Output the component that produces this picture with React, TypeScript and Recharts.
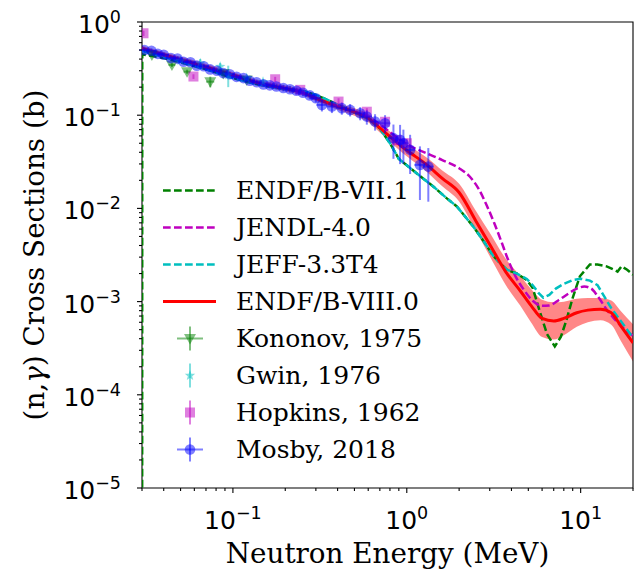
import React from 'react';
import { ComposedChart, Line, Area, Scatter, XAxis, YAxis, ErrorBar, ReferenceArea } from 'recharts';

// ---------- evaluated libraries ----------
// ENDF/B-VIII.0 (red, with uncertainty band)
const viii0E = [0.03, 0.04, 0.05, 0.07, 0.1, 0.14, 0.2, 0.25, 0.3, 0.4, 0.5, 0.6, 0.7, 0.8, 0.9, 1.0, 1.3, 1.6, 2.0, 2.5, 3.0, 3.7, 4.5, 5.2, 6.0, 7.0, 8.0, 9.5, 11, 13, 15, 17, 20];
const viii0Xs = [0.52, 0.445, 0.395, 0.33, 0.27, 0.222, 0.194, 0.176, 0.152, 0.124, 0.108, 0.093, 0.073, 0.059, 0.049, 0.042, 0.0295, 0.021, 0.0148, 0.0073, 0.0041, 0.0021, 0.0013, 0.0009, 0.00066, 0.00062, 0.00066, 0.00076, 0.00081, 0.00083, 0.00076, 0.00055, 0.00036];
const viii0Low = [0.485, 0.415, 0.368, 0.308, 0.252, 0.207, 0.181, 0.164, 0.142, 0.1144, 0.0985, 0.0839, 0.0651, 0.052, 0.0427, 0.0362, 0.0248, 0.01727, 0.01189, 0.00567, 0.00307, 0.00152, 0.0009, 0.000594, 0.000416, 0.000391, 0.000436, 0.000538, 0.0006, 0.00063, 0.000563, 0.000381, 0.000227];
const viii0High = [0.557, 0.477, 0.423, 0.354, 0.289, 0.238, 0.208, 0.189, 0.163, 0.1344, 0.1184, 0.1031, 0.0819, 0.067, 0.0563, 0.0488, 0.0351, 0.02554, 0.01843, 0.0094, 0.00547, 0.0029, 0.00188, 0.00136, 0.001046, 0.000983, 0.000999, 0.001074, 0.00109, 0.001094, 0.001025, 0.000795, 0.000571];

// JENDL-4.0 (magenta dashed)
const jendlE = [0.03, 0.04, 0.05, 0.07, 0.1, 0.14, 0.2, 0.25, 0.3, 0.4, 0.5, 0.6, 0.7, 0.8, 0.9, 1.04, 1.3, 1.6, 2.0, 2.3, 2.6, 2.9, 3.2, 3.5, 3.8, 4.2, 4.7, 5.3, 6.0, 6.6, 7.5, 8.5, 9.5, 10.5, 11.5, 12.5, 14, 16, 18, 20];
const jendlXs = [0.52, 0.445, 0.395, 0.33, 0.27, 0.222, 0.194, 0.176, 0.152, 0.126, 0.11, 0.096, 0.08, 0.066, 0.056, 0.047, 0.039, 0.033, 0.027, 0.022, 0.016, 0.0105, 0.0068, 0.0044, 0.0029, 0.0019, 0.00135, 0.00102, 0.0009, 0.00091, 0.00104, 0.00122, 0.00138, 0.00145, 0.00138, 0.00115, 0.00084, 0.00062, 0.0005, 0.00043];

// JEFF-3.3T4 (cyan dashed)
const jeffE = [0.03, 0.04, 0.05, 0.07, 0.1, 0.14, 0.2, 0.26, 0.3, 0.35, 0.45, 0.6, 0.7, 0.8, 0.9, 1.0, 1.2, 1.42, 1.7, 1.94, 2.41, 2.8, 3.14, 3.5, 3.76, 4.3, 4.9, 5.3, 5.7, 6.1, 6.6, 7.2, 8.0, 9.0, 10, 11.3, 12.5, 13.5, 15, 17, 20];
const jeffXs = [0.49, 0.42, 0.375, 0.31, 0.25, 0.213, 0.19, 0.18, 0.165, 0.146, 0.117, 0.092, 0.072, 0.05, 0.034, 0.029, 0.022, 0.0172, 0.0128, 0.0105, 0.0064, 0.0043, 0.0031, 0.0025, 0.0022, 0.002, 0.00175, 0.0015, 0.00125, 0.0011, 0.00118, 0.00138, 0.00155, 0.0017, 0.00176, 0.00168, 0.0015, 0.00118, 0.00085, 0.00062, 0.00041];

// ENDF/B-VII.1 (green dashed)
const vii1E = [0.03005, 0.0301, 0.04, 0.05, 0.07, 0.1, 0.14, 0.2, 0.26, 0.3, 0.35, 0.45, 0.6, 0.7, 0.8, 0.9, 1.0, 1.2, 1.42, 1.7, 1.94, 2.41, 2.8, 3.14, 3.5, 3.76, 4.3, 4.9, 5.3, 5.8, 6.4, 7.1, 7.7, 8.3, 9.0, 9.9, 11.3, 12.5, 14.1, 15.5, 16.3, 17.2, 18.5, 20];
const vii1Xs = [1e-7, 0.45, 0.41, 0.37, 0.31, 0.25, 0.213, 0.19, 0.18, 0.165, 0.146, 0.117, 0.092, 0.072, 0.05, 0.034, 0.029, 0.022, 0.0172, 0.0128, 0.0105, 0.0064, 0.0043, 0.0031, 0.0025, 0.0022, 0.002, 0.0017, 0.0014, 0.0008, 0.00045, 0.00033, 0.00042, 0.00064, 0.0011, 0.00187, 0.0025, 0.0025, 0.00239, 0.0022, 0.0021, 0.00239, 0.0022, 0.00194];

// ---------- measurements ----------
const kononovE = [0.0342, 0.0446, 0.0545, 0.0741, 0.088, 0.12];
const kononovXs = [0.443, 0.346, 0.293, 0.229, 0.28, 0.238];
const kononovDx = [0.0015, 0.002, 0.0025, 0.004, 0.004, 0.006];
const kononovDy = [0.02, 0.017, 0.015, 0.03, 0.014, 0.012];

const gwinE = [0.05, 0.0649, 0.0845, 0.094, 0.12, 0.149];
const gwinXs = [0.385, 0.361, 0.332, 0.27, 0.25, 0.228];
const gwinDy = [0.012, 0.04, 0.03, 0.07, 0.01, 0.012];

const hopkinsE = [0.0306, 0.0593, 0.175, 0.244, 0.405, 0.589, 0.75, 0.876, 1.0];
const hopkinsXs = [0.757, 0.26, 0.243, 0.187, 0.14, 0.109, 0.085, 0.054, 0.05];
const hopkinsDy = [0.05, 0.015, 0.015, 0.012, 0.012, 0.01, 0.008, 0.006, 0.006];

const mosbyE = [0.031, 0.034, 0.037, 0.040, 0.044, 0.048, 0.052, 0.057, 0.062, 0.068, 0.074, 0.081, 0.088, 0.096, 0.105, 0.115, 0.125, 0.137, 0.15, 0.163, 0.178, 0.195, 0.213, 0.232, 0.253, 0.277, 0.30, 0.325, 0.371, 0.423, 0.472, 0.539, 0.589, 0.657, 0.75, 0.838, 0.915, 0.956, 1.045, 1.19, 1.33];
const mosbyXs = [0.50, 0.49, 0.455, 0.445, 0.41, 0.405, 0.375, 0.37, 0.34, 0.335, 0.31, 0.30, 0.283, 0.275, 0.258, 0.25, 0.234, 0.226, 0.214, 0.209, 0.203, 0.196, 0.19, 0.183, 0.174, 0.163, 0.152, 0.129, 0.124, 0.119, 0.114, 0.105, 0.0966, 0.0854, 0.082, 0.0567, 0.0543, 0.050, 0.0425, 0.0293, 0.0281];
const mosbyRelDy = [6, 6, 6, 6, 6, 6, 6, 6, 6, 6, 6, 6, 6, 6, 6, 6, 6, 6, 6, 7, 7, 8, 8, 8, 8, 9, 10, 15, 15, 15, 15, 16, 18, 20, 22, 40, 45, 40, 45, 58, 58];
const mosbyRelDx = 7;

// ---------- ticks ----------
const xTicks = [0.03, 0.04, 0.05, 0.06, 0.07, 0.08, 0.09, 0.1, 0.2, 0.3, 0.4, 0.5, 0.6, 0.7, 0.8, 0.9, 1, 2, 3, 4, 5, 6, 7, 8, 9, 10, 20];
const yTicks = [
  1e-5, 2e-5, 3e-5, 4e-5, 5e-5, 6e-5, 7e-5, 8e-5, 9e-5,
  1e-4, 2e-4, 3e-4, 4e-4, 5e-4, 6e-4, 7e-4, 8e-4, 9e-4,
  1e-3, 2e-3, 3e-3, 4e-3, 5e-3, 6e-3, 7e-3, 8e-3, 9e-3,
  1e-2, 2e-2, 3e-2, 4e-2, 5e-2, 6e-2, 7e-2, 8e-2, 9e-2,
  0.1, 0.2, 0.3, 0.4, 0.5, 0.6, 0.7, 0.8, 0.9, 1,
];

const legendLabels = ['ENDF/B-VII.1', 'JENDL-4.0', 'JEFF-3.3T4', 'ENDF/B-VIII.0', 'Kononov, 1975', 'Gwin, 1976', 'Hopkins, 1962', 'Mosby, 2018'];

// ---------- colours ----------
const GREEN = '#008000';
const MAGENTA = '#bf00bf';
const CYAN = '#00bfbf';
const RED = '#ff0000';
const BLUE = '#0000ff';

const DASH = '7.7 3.3';
const DASH_W = 2.5;

const toLine = (xs: number[], ys: number[]) => xs.map((x, i) => ({ x, y: ys[i] }));

const bandData = viii0E.map((x, i) => ({ x, band: [viii0Low[i], viii0High[i]] }));
const viii0Data = toLine(viii0E, viii0Xs);
const jendlData = toLine(jendlE, jendlXs);
const jeffData = toLine(jeffE, jeffXs);
const vii1Data = toLine(vii1E, vii1Xs);

const kononovData = kononovE.map((x, i) => ({ x, y: kononovXs[i], ex: kononovDx[i], ey: kononovDy[i] }));
const gwinData = gwinE.map((x, i) => ({ x, y: gwinXs[i], ey: gwinDy[i] }));
const hopkinsData = hopkinsE.map((x, i) => ({ x, y: hopkinsXs[i], ey: hopkinsDy[i] }));
const mosbyData = mosbyE.map((x, i) => ({
  x,
  y: mosbyXs[i],
  ex: (x * mosbyRelDx) / 100,
  ey: (mosbyXs[i] * mosbyRelDy[i]) / 100,
}));

const isMajor = (v: number) => Math.abs(Math.log10(v) - Math.round(Math.log10(v))) < 1e-6;
const expText = (v: number) => {
  const e = Math.round(Math.log10(v));
  return e < 0 ? '\u2212' + Math.abs(e) : String(e);
};

const TICK_FONT = 'DejaVu Sans';
const SERIF = 'DejaVu Serif';

const XTick = (props: any) => {
  const { x, y, payload } = props;
  const v = payload.value;
  const major = isMajor(v);
  return (
    <g>
      <line x1={x} x2={x} y1={y} y2={y + (major ? 5 : 3)} stroke="#000" strokeWidth={1.1} />
      {major && (
        <text x={x} y={y + 41} textAnchor="middle" fontFamily={TICK_FONT} fontSize={25} fill="#000">
          10<tspan dy={-10} fontSize={17.5}>{expText(v)}</tspan>
        </text>
      )}
    </g>
  );
};

const YTick = (props: any) => {
  const { x, y, payload } = props;
  const v = payload.value;
  const major = isMajor(v);
  return (
    <g>
      <line x1={x - (major ? 5 : 3)} x2={x} y1={y} y2={y} stroke="#000" strokeWidth={1.1} />
      {major && (
        <text x={x - 21} y={y + 11} textAnchor="end" fontFamily={TICK_FONT} fontSize={25} fill="#000">
          10<tspan dy={-10} fontSize={17.5}>{expText(v)}</tspan>
        </text>
      )}
    </g>
  );
};

const starPoints = (cx: number, cy: number, R: number, r: number) => {
  const pts: string[] = [];
  for (let k = 0; k < 10; k++) {
    const ang = -Math.PI / 2 + (k * Math.PI) / 5;
    const rad = k % 2 === 0 ? R : r;
    pts.push(`${cx + rad * Math.cos(ang)},${cy + rad * Math.sin(ang)}`);
  }
  return pts.join(' ');
};

const Marker = ({ kind, cx, cy, color }: { kind: string; cx: number; cy: number; color: string }) => {
  if (cx == null || cy == null) return null;
  if (kind === 'circle') return <circle cx={cx} cy={cy} r={5.3} fill={color} fillOpacity={0.5} />;
  if (kind === 'square') return <rect x={cx - 5} y={cy - 5} width={10} height={10} fill={color} fillOpacity={0.5} />;
  if (kind === 'tri')
    return <polygon points={`${cx - 6},${cy - 4.5} ${cx + 6},${cy - 4.5} ${cx},${cy + 6}`} fill={color} fillOpacity={0.5} />;
  return <polygon points={starPoints(cx, cy, 5.5, 2.3)} fill={color} fillOpacity={0.5} />;
};

const shapeOf = (kind: string, color: string) => (p: any) => <Marker kind={kind} cx={p.cx} cy={p.cy} color={color} />;

const LegendIcon = ({ i }: { i: number }) => {
  const c = 27;
  const m = 18.5;
  let content: React.ReactNode = null;
  if (i === 0) content = <line x1={0} x2={53} y1={m} y2={m} stroke={GREEN} strokeWidth={DASH_W} strokeDasharray={DASH} />;
  if (i === 1) content = <line x1={0} x2={53} y1={m} y2={m} stroke={MAGENTA} strokeWidth={DASH_W} strokeDasharray={DASH} />;
  if (i === 2) content = <line x1={0} x2={53} y1={m} y2={m} stroke={CYAN} strokeWidth={DASH_W} strokeDasharray={DASH} />;
  if (i === 3) content = <line x1={0} x2={53} y1={m} y2={m} stroke={RED} strokeWidth={3} />;
  if (i === 4)
    content = (
      <g>
        <line x1={c - 13} x2={c + 13} y1={m} y2={m} stroke={GREEN} strokeWidth={2} strokeOpacity={0.5} />
        <line x1={c} x2={c} y1={m - 12} y2={m + 12} stroke={GREEN} strokeWidth={2} strokeOpacity={0.5} />
        <Marker kind="tri" cx={c} cy={m} color={GREEN} />
      </g>
    );
  if (i === 5)
    content = (
      <g>
        <line x1={c} x2={c} y1={m - 12} y2={m + 12} stroke={CYAN} strokeWidth={2} strokeOpacity={0.5} />
        <Marker kind="star" cx={c} cy={m} color={CYAN} />
      </g>
    );
  if (i === 6)
    content = (
      <g>
        <line x1={c} x2={c} y1={m - 12} y2={m + 12} stroke={MAGENTA} strokeWidth={2} strokeOpacity={0.5} />
        <Marker kind="square" cx={c} cy={m} color={MAGENTA} />
      </g>
    );
  if (i === 7)
    content = (
      <g>
        <line x1={c - 13} x2={c + 13} y1={m} y2={m} stroke={BLUE} strokeWidth={2} strokeOpacity={0.5} />
        <line x1={c} x2={c} y1={m - 12} y2={m + 12} stroke={BLUE} strokeWidth={2} strokeOpacity={0.5} />
        <Marker kind="circle" cx={c} cy={m} color={BLUE} />
      </g>
    );
  return (
    <svg width={73} height={37} style={{ display: 'block' }}>
      {content}
    </svg>
  );
};

export default function App() {
  return (
    <div style={{ position: 'absolute', left: 0, top: 0, width: 641, height: 570, background: '#fff' }}>
      <ComposedChart width={641} height={570} margin={{ top: 22, right: 8, bottom: 22, left: 12 }}>
        <XAxis
          dataKey="x"
          type="number"
          scale="log"
          domain={[0.03, 20]}
          allowDataOverflow
          ticks={xTicks}
          interval={0}
          tick={<XTick />}
          tickLine={false}
          axisLine={false}
          tickSize={0}
          tickMargin={0}
          height={60}
        />
        <YAxis
          dataKey="y"
          type="number"
          scale="log"
          domain={[1e-5, 1]}
          allowDataOverflow
          ticks={yTicks}
          interval={0}
          tick={<YTick />}
          tickLine={false}
          axisLine={false}
          tickSize={0}
          tickMargin={0}
          width={130}
        />
        <Area
          data={bandData}
          dataKey="band"
          type="monotone"
          fill={RED}
          fillOpacity={0.47}
          stroke="none"
          isAnimationActive={false}
          dot={false}
          activeDot={false}
        />
        <Line data={vii1Data} dataKey="y" type="linear" stroke={GREEN} strokeWidth={DASH_W} strokeDasharray={DASH} dot={false} activeDot={false} isAnimationActive={false} />
        <Line data={jendlData} dataKey="y" type="monotone" stroke={MAGENTA} strokeWidth={DASH_W} strokeDasharray={DASH} dot={false} activeDot={false} isAnimationActive={false} />
        <Line data={jeffData} dataKey="y" type="linear" stroke={CYAN} strokeWidth={DASH_W} strokeDasharray={DASH} dot={false} activeDot={false} isAnimationActive={false} />
        <Line data={viii0Data} dataKey="y" type="monotone" stroke={RED} strokeWidth={3} dot={false} activeDot={false} isAnimationActive={false} />
        <Scatter data={kononovData} shape={shapeOf('tri', GREEN)} isAnimationActive={false}>
          <ErrorBar dataKey="ex" direction="x" width={0} stroke={GREEN} strokeWidth={2} strokeOpacity={0.5} />
          <ErrorBar dataKey="ey" direction="y" width={0} stroke={GREEN} strokeWidth={2} strokeOpacity={0.5} />
        </Scatter>
        <Scatter data={gwinData} shape={shapeOf('star', CYAN)} isAnimationActive={false}>
          <ErrorBar dataKey="ey" direction="y" width={0} stroke={CYAN} strokeWidth={2} strokeOpacity={0.5} />
        </Scatter>
        <Scatter data={hopkinsData} shape={shapeOf('square', MAGENTA)} isAnimationActive={false}>
          <ErrorBar dataKey="ey" direction="y" width={0} stroke={MAGENTA} strokeWidth={2} strokeOpacity={0.5} />
        </Scatter>
        <Scatter data={mosbyData} shape={shapeOf('circle', BLUE)} isAnimationActive={false}>
          <ErrorBar dataKey="ex" direction="x" width={0} stroke={BLUE} strokeWidth={2} strokeOpacity={0.5} />
          <ErrorBar dataKey="ey" direction="y" width={0} stroke={BLUE} strokeWidth={2} strokeOpacity={0.5} />
        </Scatter>
        <ReferenceArea x1={0.03} x2={20} y1={1e-5} y2={1} fill="none" fillOpacity={0} stroke="#000" strokeWidth={1.1} ifOverflow="visible" />
      </ComposedChart>

      <svg width={641} height={570} style={{ position: 'absolute', left: 0, top: 0, pointerEvents: 'none' }}>
        <text x={387.5} y={563} textAnchor="middle" fontFamily={SERIF} fontSize={27.8} fill="#000">
          Neutron Energy (MeV)
        </text>
        <text transform="rotate(-90 44 255)" x={44} y={255} textAnchor="middle" fontFamily={SERIF} fontSize={27.8} fill="#000">
          (n,<tspan fontStyle="italic">γ</tspan>) Cross Sections (b)
        </text>
      </svg>

      <div style={{ position: 'absolute', left: 163, top: 171.5 }}>
        {legendLabels.map((label, i) => (
          <div key={label} style={{ display: 'flex', alignItems: 'center', height: 37.1 }}>
            <LegendIcon i={i} />
            <span style={{ fontFamily: SERIF, fontSize: 25, color: '#000', whiteSpace: 'nowrap', lineHeight: '37px' }}>{label}</span>
          </div>
        ))}
      </div>
    </div>
  );
}
